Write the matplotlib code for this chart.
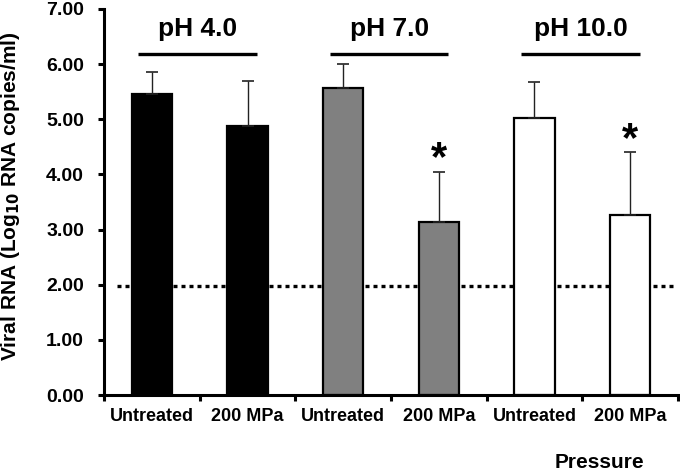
import numpy as np
import matplotlib
matplotlib.use('Agg')
import matplotlib.pyplot as plt

plt.rcParams['font.family'] = ['Liberation Sans', 'DejaVu Sans']
plt.rcParams['font.weight'] = 'bold'

# data
labels = ['Untreated', '200 MPa', 'Untreated', '200 MPa', 'Untreated', '200 MPa']
values = [5.46, 4.88, 5.56, 3.13, 5.02, 3.26]
errors = [0.40, 0.81, 0.45, 0.92, 0.66, 1.15]
colors = ['black', 'black', '#808080', '#808080', 'white', 'white']
groups = ['pH 4.0', 'pH 7.0', 'pH 10.0']
signif = [False, False, False, True, False, True]
detect_limit = 1.97

fig = plt.figure(figsize=(6.8, 4.72), dpi=100)
ax = fig.add_axes([0.153, 0.163, 0.844, 0.818])

x = np.arange(len(values))
ax.bar(x, values, width=0.42, color=colors, edgecolor='black', linewidth=1.6, zorder=2)
ax.errorbar(x, values, yerr=[np.zeros(len(errors)), errors], fmt='none',
            ecolor='#222222', elinewidth=1.0, capsize=4, capthick=1.2, zorder=3)

# significance stars
for xi, v, e, s in zip(x, values, errors, signif):
    if s:
        ax.text(xi, v + e + 0.02, '*', ha='center', va='baseline', fontsize=30, fontweight='bold')

# group labels with bars
for i, g in enumerate(groups):
    c = 2 * i + 0.48
    ax.plot([c - 0.62, c + 0.62], [6.18, 6.18], color='black', lw=2.4, solid_capstyle='butt')
    ax.text(c, 6.64, g, ha='center', va='center', fontsize=19, fontweight='bold')

# detection limit
ax.axhline(detect_limit, xmin=0.023, xmax=0.991, color='black', ls=(0, (1.2, 1.2)), lw=2.4, zorder=1)

ax.set_xlim(-0.5, len(values) - 0.5)
ax.set_ylim(0, 7)
ax.set_yticks(np.arange(0, 8, 1))
ax.set_yticklabels([f'{v:.2f}' for v in np.arange(0, 8, 1)], fontsize=14, fontweight='bold')

ax.set_xticks(np.arange(-0.5, len(values)), minor=False)
ax.set_xticklabels([])
ax.set_xticks(x, minor=True)
ax.set_xticklabels(labels, minor=True, fontsize=13, fontweight='bold')
ax.tick_params(axis='x', which='minor', length=0, pad=9)
ax.tick_params(axis='x', which='major', length=4, width=2.2, direction='out')
ax.tick_params(axis='y', length=4.5, width=2.2, direction='out', pad=10)

for side in ['top', 'right']:
    ax.spines[side].set_visible(False)
for side in ['left', 'bottom']:
    ax.spines[side].set_linewidth(2.2)

ax.set_ylabel('Viral RNA (Log$_{\\mathbf{10}}$ RNA copies/ml)', fontsize=15, fontweight='bold')
ax.yaxis.set_label_coords(-0.143, 0.516)
fig.text(0.882, 0.0197, 'Pressure', ha='center', va='center', fontsize=15, fontweight='bold')

fig.savefig('out.png', dpi=100)
